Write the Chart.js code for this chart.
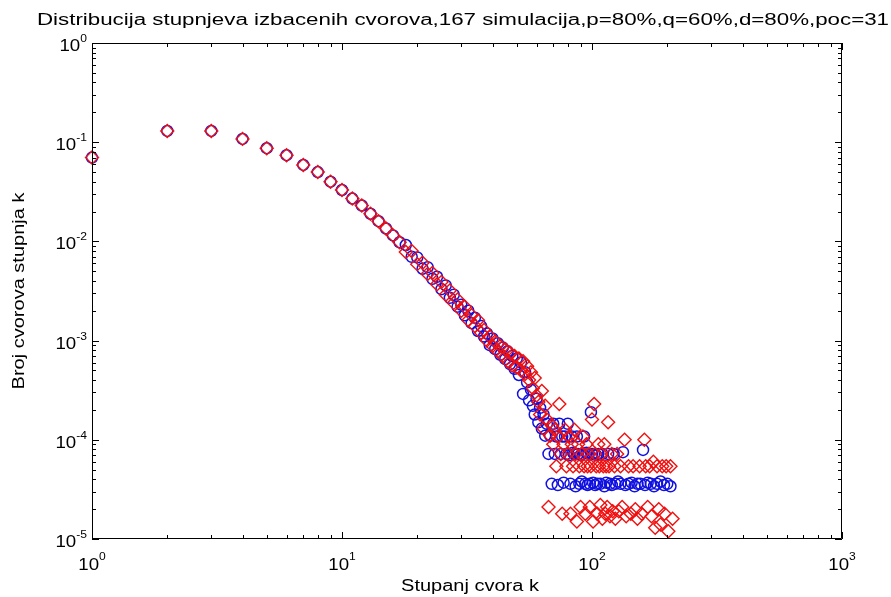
<!DOCTYPE html>
<html>
<head>
<meta charset="utf-8">
<script src="https://cdn.jsdelivr.net/npm/chart.js@4.4.1/dist/chart.umd.min.js"></script>
<style>
  html, body { margin: 0; padding: 0; background: #fff; }
  #wrap { width: 891px; height: 597px; }
</style>
</head>
<body>
<div id="wrap"><canvas id="degChart" width="891" height="597"></canvas></div>
<script>
const titleText = 'Distribucija stupnjeva izbacenih cvorova,167 simulacija,p=80%,q=60%,d=80%,poc=31';
const xTitle = 'Stupanj cvora k';
const yTitle = 'Broj cvorova stupnja k';
const xDecades = [0, 1, 2, 3];
const yDecades = [0, -1, -2, -3, -4, -5];

// blue circles
const blueK = [1,2,3,4,5,6,7,8,9,10,11,12,13,14,15,16,17,18,19,20,
  21,22,23,24,25,26,27,28,29,30,31,32,33,34,35,36,37,38,39,40,
  41,42,43,44,45,46,47,48,49,50,51,52,53,54,55,56,57,58,59,60,
  61,62,63,64,65,66,67,68,69,70,71,72,73,74,75,76,77,78,79,80,
  81,82,83,84,85,86,87,88,89,90,91,92,93,94,95,96,97,98,99,100,
  101,102,103,104,105,106,108,110,112,114,116,118,120,122,124,127,130,133,136,140,
  144,148,152,156,160,163,167,172,177,182,188,194,200,206];
const blueP = [0.070,0.130,0.130,0.108,0.087,0.074,0.059,0.050,0.040,0.033,0.027,0.023,0.019,0.016,0.0135,0.0115,0.0098,0.0092,0.0070,0.0069,
  0.0053,0.0055,0.0042,0.0044,0.0033,0.0036,0.0027,0.0029,0.0022,0.0023,0.0018,0.0020,0.0015,0.0017,0.00125,0.0014,0.0011,0.00118,0.00090,0.00105,
  0.00082,0.00094,0.00072,0.00085,0.00065,0.00078,0.00058,0.00070,0.00052,0.00066,0.00045,0.00060,0.00029,0.00048,0.00038,0.00025,0.00032,0.00022,0.00018,0.00026,
  1.5e-4,2.1e-4,1.3e-4,1.8e-4,1.1e-4,1.45e-4,7.2e-5,1.1e-4,3.6e-5,1.45e-4,7.2e-5,1.08e-4,3.5e-5,1.45e-4,7.2e-5,1.08e-4,3.7e-5,1.08e-4,7.2e-5,1.45e-4,
  7.0e-5,3.6e-5,1.08e-4,7.4e-5,7.2e-5,3.4e-5,1.08e-4,7.2e-5,3.6e-5,7.0e-5,3.8e-5,7.2e-5,1.08e-4,3.6e-5,7.4e-5,3.5e-5,7.2e-5,3.6e-5,1.9e-4,7.2e-5,
  3.7e-5,7.2e-5,3.5e-5,7.0e-5,3.6e-5,7.2e-5,3.6e-5,7.2e-5,3.4e-5,3.7e-5,7.2e-5,3.6e-5,3.5e-5,7.2e-5,3.6e-5,3.8e-5,3.6e-5,7.5e-5,3.5e-5,3.6e-5,
  3.7e-5,3.4e-5,3.6e-5,3.6e-5,7.9e-5,3.5e-5,3.7e-5,3.6e-5,3.4e-5,3.6e-5,3.8e-5,3.5e-5,3.6e-5,3.4e-5];

// red diamonds
const redK = [1,2,3,4,5,6,7,8,9,10,11,12,13,14,15,16,17,18,19,20,
  21,22,23,24,25,26,27,28,29,30,31,32,33,34,35,36,37,38,39,40,
  41,42,43,44,45,46,47,48,49,50,51,52,53,54,55,56,57,58,59,60,
  61,62,63,64,65,66,67,68,69,70,71,72,73,74,75,76,77,78,79,80,
  81,82,83,84,85,86,87,88,89,90,91,92,93,94,95,96,97,98,99,100,
  101,102,103,104,105,106,107,108,109,110,111,112,113,114,115,116,117,118,120,121,
  123,124,126,128,130,132,135,137,140,143,146,149,152,155,158,162,164,167,170,173,
  176,179,182,185,188,191,195,198,202,206,210];
const redP = [0.070,0.130,0.130,0.108,0.087,0.074,0.059,0.050,0.040,0.033,0.027,0.023,0.019,0.016,0.0135,0.0115,0.0098,0.0078,0.0080,0.0059,
  0.0061,0.0047,0.0048,0.0037,0.0039,0.0029,0.0032,0.0024,0.0026,0.0020,0.0022,0.0016,0.0018,0.0014,0.0016,0.0012,0.00128,0.0010,0.00110,0.00088,
  0.00098,0.00078,0.00088,0.00070,0.00082,0.00062,0.00075,0.00056,0.00070,0.00054,0.00066,0.00050,0.00062,0.00046,0.00055,0.00040,0.00048,0.00033,0.00042,0.00028,
  2.4e-4,1.8e-4,3.1e-4,1.3e-4,2.2e-4,1.6e-4,2.1e-5,1.1e-4,1.4e-4,9e-5,1.26e-4,5.4e-5,1.08e-4,2.3e-4,7.2e-5,1.8e-5,9e-5,1.26e-4,5.4e-5,7.2e-5,
  1.08e-4,1.8e-5,9e-5,5.4e-5,1.26e-4,7.2e-5,1.5e-5,9e-5,5.4e-5,2.1e-5,7.2e-5,1.08e-4,5.4e-5,1.8e-5,9e-5,5.4e-5,7.2e-5,2.1e-5,5.4e-5,1.6e-4,
  1.5e-5,2.3e-4,7.2e-5,5.4e-5,1.8e-5,9e-5,5.4e-5,2.2e-5,7.2e-5,1.6e-5,5.4e-5,9e-5,1.8e-5,5.4e-5,2.1e-5,1.5e-4,5.4e-5,1.7e-5,7.2e-5,1.9e-5,
  5.4e-5,1.6e-5,7.2e-5,1.9e-5,5.4e-5,2.1e-5,1.0e-4,1.7e-5,5.4e-5,1.8e-5,5.4e-5,2.0e-5,1.6e-5,5.4e-5,1.8e-5,1.0e-4,5.4e-5,2.1e-5,5.4e-5,1.7e-5,
  6.0e-5,1.3e-5,5.4e-5,2.0e-5,1.4e-5,5.4e-5,1.8e-5,5.4e-5,1.2e-5,5.4e-5,1.6e-5];

const FONT = '"Liberation Sans", Arial, sans-serif';

// draw text squeezed/stretched horizontally
function drawText(ctx, txt, x, y, size, sx, align) {
  ctx.save();
  ctx.font = size + 'px ' + FONT;
  ctx.translate(x, y);
  ctx.scale(sx, 1);
  ctx.textAlign = align;
  ctx.textBaseline = 'alphabetic';
  ctx.fillText(txt, 0, 0);
  ctx.restore();
}

function textW(ctx, txt, size, sx) {
  ctx.font = size + 'px ' + FONT;
  return ctx.measureText(txt).width * sx;
}

const matlabAxes = {
  id: 'matlabAxes',
  afterDatasetsDraw(chart) {
    const ctx = chart.ctx;
    const a = chart.chartArea;
    const xs = chart.scales.x, ys = chart.scales.y;
    ctx.save();
    ctx.strokeStyle = '#000';
    ctx.fillStyle = '#000';
    ctx.lineWidth = 1;

    ctx.beginPath();
    ctx.rect(a.left + 0.5, a.top + 0.5, a.right - a.left - 1, a.bottom - a.top - 1);
    ctx.stroke();

    const major = 7, minor = 4;
    ctx.beginPath();
    xDecades.forEach(d => {
      for (let m = 1; m <= 9; m++) {
        if (d === 3 && m > 1) break;
        const px = Math.round(xs.getPixelForValue(m * Math.pow(10, d))) + 0.5;
        const len = m === 1 ? major : minor;
        ctx.moveTo(px, a.bottom); ctx.lineTo(px, a.bottom - len);
        ctx.moveTo(px, a.top); ctx.lineTo(px, a.top + len);
      }
    });
    yDecades.forEach(d => {
      for (let m = 1; m <= 9; m++) {
        if (d === 0 && m > 1) break;
        const py = Math.round(ys.getPixelForValue(m * Math.pow(10, d))) + 0.5;
        const len = m === 1 ? major : minor;
        ctx.moveTo(a.left, py); ctx.lineTo(a.left + len, py);
        ctx.moveTo(a.right, py); ctx.lineTo(a.right - len, py);
      }
    });
    ctx.stroke();

    // x tick labels
    xDecades.forEach(d => {
      const px = xs.getPixelForValue(Math.pow(10, d));
      const w1 = textW(ctx, '10', 17, 1.1);
      const w2 = textW(ctx, String(d), 11, 1.1);
      const left = px - (w1 + w2) / 2;
      drawText(ctx, '10', left, a.bottom + 31, 17, 1.1, 'left');
      drawText(ctx, String(d), left + w1, a.bottom + 21, 11, 1.1, 'left');
    });

    // y tick labels
    yDecades.forEach(d => {
      const py = ys.getPixelForValue(Math.pow(10, d));
      const ex = d === 0 ? '0' : '-' + (-d);
      const w2 = textW(ctx, ex, 11, 1.1);
      const right = a.left - 5;
      drawText(ctx, ex, right, py - 1, 11, 1.1, 'right');
      drawText(ctx, '10', right - w2, py + 8, 17, 1.1, 'right');
    });

    // title
    const cx = (a.left + a.right) / 2;
    ctx.font = '16px ' + FONT;
    const tw = ctx.measureText(titleText).width;
    drawText(ctx, titleText, cx - 4, a.top - 18, 16, 852 / tw, 'center');

    // axis titles
    drawText(ctx, xTitle, cx + 3, a.bottom + 52, 16, 1.25, 'center');
    ctx.save();
    ctx.translate(24, (a.top + a.bottom) / 2);
    ctx.rotate(-Math.PI / 2);
    drawText(ctx, yTitle, 0, 0, 16, 1.25, 'center');
    ctx.restore();

    ctx.restore();
  }
};

const toPoints = (ks, ps) => ks.map((k, i) => ({ x: k, y: ps[i] }));

new Chart(document.getElementById('degChart'), {
  type: 'scatter',
  data: {
    datasets: [
      {
        label: 'blue',
        data: toPoints(blueK, blueP),
        pointStyle: 'circle',
        pointRadius: 5.5,
        borderColor: '#1010e0',
        backgroundColor: 'rgba(0,0,0,0)',
        borderWidth: 1.5,
        clip: false,
        order: 1
      },
      {
        label: 'red',
        data: toPoints(redK, redP),
        pointStyle: 'rectRot',
        pointRadius: 6.5,
        borderColor: '#f01010',
        backgroundColor: 'rgba(0,0,0,0)',
        borderWidth: 1.4,
        clip: false,
        order: 0
      }
    ]
  },
  options: {
    responsive: false,
    animation: false,
    events: [],
    layout: { padding: { left: 92, right: 49, top: 43, bottom: 58 } },
    plugins: { legend: { display: false }, tooltip: { enabled: false } },
    scales: {
      x: {
        type: 'logarithmic', min: 1, max: 1000,
        ticks: { display: false },
        grid: { display: false, drawTicks: false },
        border: { display: false }
      },
      y: {
        type: 'logarithmic', min: 1e-5, max: 1,
        ticks: { display: false },
        grid: { display: false, drawTicks: false },
        border: { display: false }
      }
    }
  },
  plugins: [matlabAxes]
});
</script>
</body>
</html>
